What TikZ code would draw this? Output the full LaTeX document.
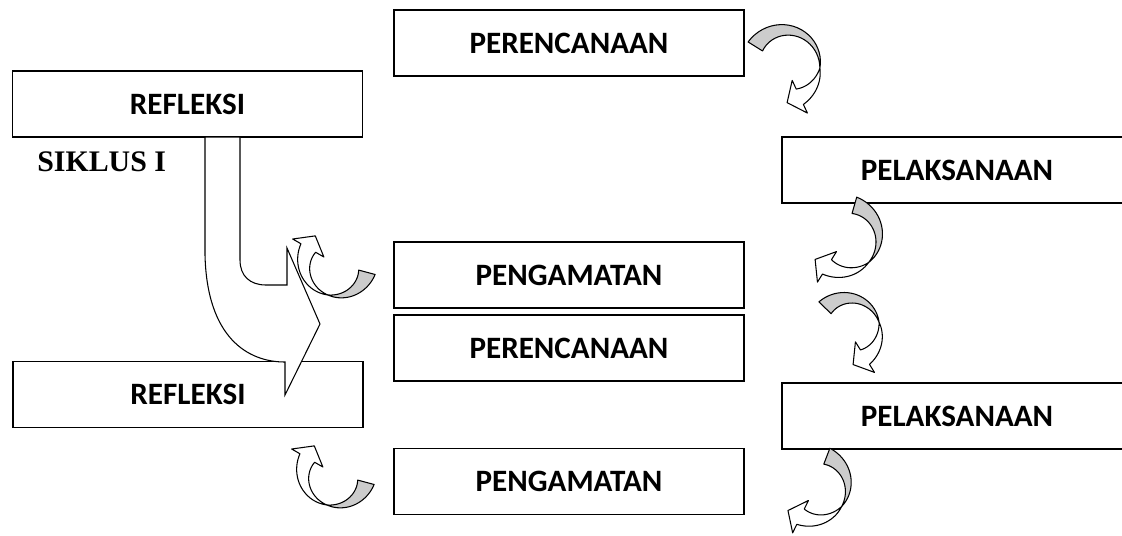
\documentclass[tikz,border=0pt]{standalone}
\usepackage{fontspec}
\setmainfont{Carlito}
\newfontfamily\sikfont{Liberation Serif}

\tikzset{
  stage/.style={draw, line width=0.75pt, fill=white, minimum width=7cm, minimum height=1.32cm, inner sep=0pt, font=\fontsize{17.7}{21}\selectfont\bfseries},
  ribbonback/.style={draw, line width=0.6pt, fill=gray!40, line join=round},
  ribbonfront/.style={draw, line width=0.6pt, fill=white, line join=round},
  bigarrow/.style={draw, line width=0.6pt, fill=white}
}

\newcommand{\arrbw}{8.5}
\newcommand{\arrhw}{18}
\newcommand{\arrhl}{14}
% centre x, centre y, radius, tail angle, twist angle, head angle
\newcommand{\twistarrow}[6]{%
  \pgfmathsetmacro\tws{((#6)>(#5))*2-1}%
  \pgfmathsetmacro\tipx{#1+#3*cos(#6)+\arrhl*cos(#6+\tws*90)}%
  \pgfmathsetmacro\tipy{#2-#3*sin(#6)-\arrhl*sin(#6+\tws*90)}%
  \filldraw[ribbonback] plot[domain=#4:#5,samples=25] ({#1+(#3+\arrbw*((#5)-\x)/((#5)-(#4)))*cos(\x)},{#2-(#3+\arrbw*((#5)-\x)/((#5)-(#4)))*sin(\x)})
    -- plot[domain=#5:#4,samples=25] ({#1+(#3-\arrbw*((#5)-\x)/((#5)-(#4)))*cos(\x)},{#2-(#3-\arrbw*((#5)-\x)/((#5)-(#4)))*sin(\x)}) -- cycle;
  \filldraw[ribbonfront] plot[domain=#5:#6,samples=25] ({#1+(#3+\arrbw*(\x-(#5))/((#6)-(#5)))*cos(\x)},{#2-(#3+\arrbw*(\x-(#5))/((#6)-(#5)))*sin(\x)})
    -- ({#1+(#3+\arrhw)*cos(#6)},{#2-(#3+\arrhw)*sin(#6)}) -- (\tipx,\tipy)
    -- ({#1+(#3-\arrhw)*cos(#6)},{#2-(#3-\arrhw)*sin(#6)})
    -- plot[domain=#6:#5,samples=25] ({#1+(#3-\arrbw*(\x-(#5))/((#6)-(#5)))*cos(\x)},{#2-(#3-\arrbw*(\x-(#5))/((#6)-(#5)))*sin(\x)}) -- cycle;
}

\begin{document}
\begin{tikzpicture}[x=0.02cm, y=-0.02cm]

\clip (0,0) rectangle (1122,535);

\node[stage] (plan1) at (569,43) {PERENCANAAN};
\node[stage] (refl1) at (187.5,104) {REFLEKSI};
\node[stage] (act1) at (957,170) {PELAKSANAAN};
\node[stage] (obs1) at (569,275) {PENGAMATAN};
\node[stage] (plan2) at (569,348) {PERENCANAAN};
\node[stage] (refl2) at (188,394.5) {REFLEKSI};
\node[stage] (act2) at (957,416) {PELAKSANAAN};
\node[stage] (obs2) at (569,481.5) {PENGAMATAN};
\node[anchor=west, inner sep=0pt, font=\sikfont\fontsize{17}{20}\selectfont\bfseries] (cycle1) at (37,162) {SIKLUS I};

\draw[bigarrow] (205,137) -- (205,255) .. controls (207,338) and (248,362) .. (285,362)
  -- (285,395) -- (320,324) -- (287,248) -- (287,285) -- (266,285)
  .. controls (250,285) and (240,276) .. (240,260) -- (240,137) -- cycle;

\twistarrow{785}{65}{35}{148}{-5}{-65}
\twistarrow{845}{238}{34}{74}{-46}{-122}
\twistarrow{848}{330}{32}{136}{14}{-58}
\twistarrow{815}{487}{33}{69}{-36}{-116}
\twistarrow{336}{264}{32}{-15}{-105}{-210}
\twistarrow{335}{474}{32}{-15}{-105}{-210}

\end{tikzpicture}
\end{document}
